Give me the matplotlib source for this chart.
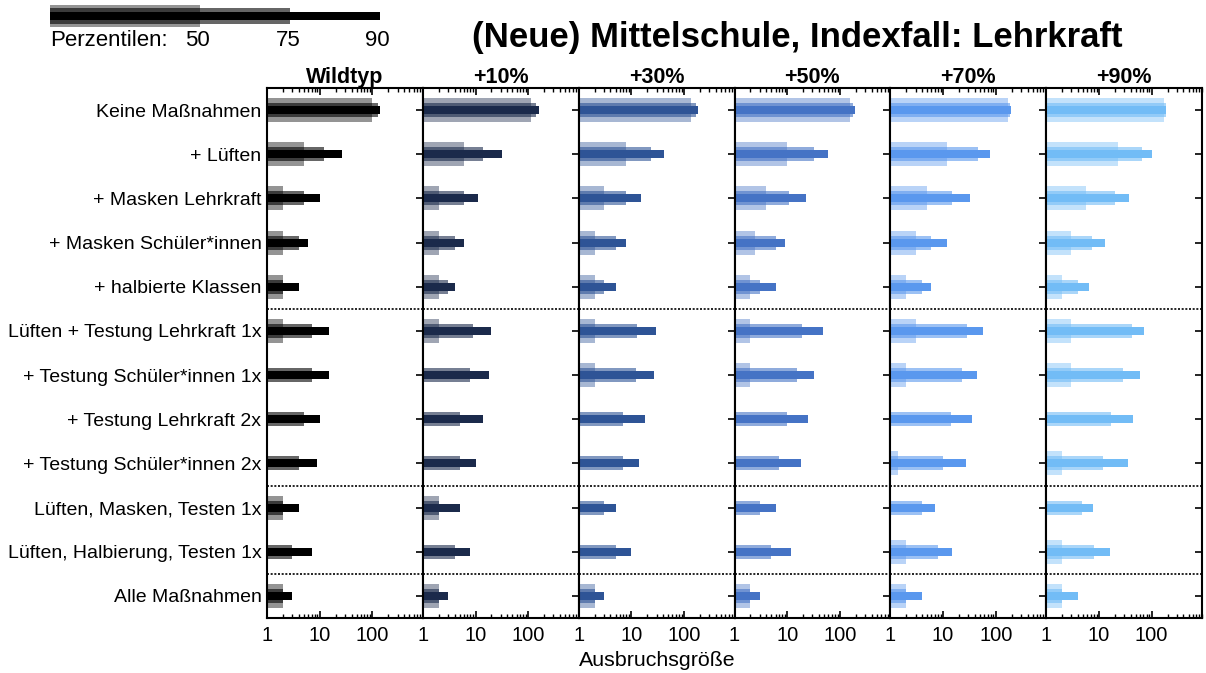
import matplotlib
matplotlib.use("Agg")
import matplotlib.pyplot as plt
from matplotlib.ticker import FixedLocator, LogLocator, NullFormatter, FixedFormatter

plt.rcParams['font.family'] = ['Liberation Sans', 'DejaVu Sans']

categories = ["Keine Maßnahmen", "+ Lüften", "+ Masken Lehrkraft", "+ Masken Schüler*innen",
              "+ halbierte Klassen", "Lüften + Testung Lehrkraft 1x", "+ Testung Schüler*innen 1x",
              "+ Testung Lehrkraft 2x", "+ Testung Schüler*innen 2x", "Lüften, Masken, Testen 1x",
              "Lüften, Halbierung, Testen 1x", "Alle Maßnahmen"]
scenarios = ["Wildtyp", "+10%", "+30%", "+50%", "+70%", "+90%"]
colors = ["#000000", "#1b2a4b", "#2e5496", "#4573c5", "#5a98ee", "#72bcf6"]

# 50th, 75th and 90th percentile of outbreak size (rows = scenarios)
p50 = [
    [97, 5, 2, 2, 2, 2, 1, 1, 1, 2, 1, 2],
    [112, 6, 2, 2, 2, 2, 1, 1, 1, 2, 1, 2],
    [137, 8, 3, 2, 2, 2, 2, 1, 1, 1, 1, 2],
    [158, 10, 4, 2.4, 2, 2, 2, 1, 1, 1, 1, 2],
    [173, 12, 5, 3, 2, 3, 2, 1, 1.4, 1, 2, 2],
    [170, 23, 5.6, 3, 2, 3, 3, 1, 2, 1, 2, 2],
]
p75 = [
    [125, 12, 5, 4, 2, 7, 7, 5, 4, 2, 3, 2],
    [138, 14, 6, 4, 3, 9, 8, 5, 5, 2, 4, 2],
    [170, 24, 8, 5, 3, 13, 12, 7, 7, 3, 5, 2],
    [176, 32, 11, 6, 3, 19, 15, 10, 7, 3, 5, 2],
    [186, 46, 15, 6, 4, 28, 23, 14, 10, 4, 8, 2],
    [183, 65, 20, 7.5, 4, 42, 28, 17, 12, 4.7, 8, 2],
]
p90 = [
    [140, 26, 10, 6, 4, 15, 15, 10, 9, 4, 7, 3],
    [156, 31, 11, 6, 4, 20, 18, 14, 10, 5, 8, 3],
    [183, 42, 15, 8, 5, 29, 27, 18, 14, 5, 10, 3],
    [190, 60, 23, 9, 6, 47, 32, 25, 18, 6, 12, 3],
    [194, 79, 32, 12, 6, 57, 44, 35, 27, 7, 15, 4],
    [190, 100, 37, 13, 6.5, 72, 59, 45, 36, 7.6, 16, 4],
]
separators = [4.5, 8.5, 10.5]
xticks = [1, 10, 100]
xticklabels = ["1", "10", "100"]

W, H = 1206, 673
fig = plt.figure(figsize=(W / 100, H / 100), dpi=100)

left0, top_px, bot_px = 267, 88, 618
pw = (1202 - left0) / 6

ypos = list(range(len(categories)))
for i, name in enumerate(scenarios):
    ax = fig.add_axes([(left0 + i * pw) / W, 1 - bot_px / H, pw / W, (bot_px - top_px) / H])
    ax.set_xscale('log')
    c = colors[i]
    ax.barh(ypos, [v - 1 for v in p50[i]], left=1, height=0.54, color=c, alpha=0.42, linewidth=0)
    ax.barh(ypos, [v - 1 for v in p75[i]], left=1, height=0.32, color=c, alpha=0.6, linewidth=0)
    ax.barh(ypos, [v - 1 for v in p90[i]], left=1, height=0.18, color=c, alpha=1.0, linewidth=0)
    for s in separators:
        ax.axhline(s, color='black', linestyle=(0, (1.2, 1.0)), linewidth=1.2)
    ax.set_xlim(1, 900)
    ax.set_ylim(len(categories) - 0.5, -0.5)
    ax.xaxis.set_major_locator(FixedLocator(xticks))
    ax.xaxis.set_major_formatter(FixedFormatter(xticklabels))
    ax.xaxis.set_minor_locator(LogLocator(base=10, subs=range(2, 10)))
    ax.xaxis.set_minor_formatter(NullFormatter())
    ax.tick_params(axis='x', which='major', direction='in', top=True, bottom=True,
                   length=5, width=1.2, labelsize=14.5, pad=6)
    ax.tick_params(axis='x', which='minor', direction='in', top=True, bottom=True,
                   length=3, width=1)
    ax.set_yticks(ypos)
    if i == 0:
        ax.set_yticklabels(categories)
    else:
        ax.set_yticklabels([])
    ax.tick_params(axis='y', direction='in', left=False, right=True, length=5, width=1.2,
                   labelsize=14, pad=4)
    for sp in ax.spines.values():
        sp.set_linewidth(1.5)
    ax.set_title(name, fontsize=15.5, fontweight='bold', pad=3)

fig.text(657 / W, 1 - 660 / H, "Ausbruchsgröße", ha='center', va='center', fontsize=15.4)
fig.text(797 / W, 1 - 38 / H, "(Neue) Mittelschule, Indexfall: Lehrkraft", ha='center',
         va='center', fontsize=25, fontweight='bold')

# percentile legend
lax = fig.add_axes([50 / W, 1 - 28 / H, 332 / W, 24 / H])
lax.set_xlim(0, 332)
lax.set_ylim(-0.5, 0.5)
lax.barh(0, 150, height=0.95, color='black', alpha=0.42, linewidth=0)
lax.barh(0, 240, height=0.65, color='black', alpha=0.6, linewidth=0)
lax.barh(0, 330, height=0.32, color='black', linewidth=0)
lax.axis('off')
fig.text(50 / W, 1 - 40 / H, "Perzentilen:", ha='left', va='center', fontsize=16)
for lab, xp in [("50", 197), ("75", 288), ("90", 377)]:
    fig.text(xp / W, 1 - 40 / H, lab, ha='center', va='center', fontsize=16)

fig.savefig("out.png", dpi=100)
